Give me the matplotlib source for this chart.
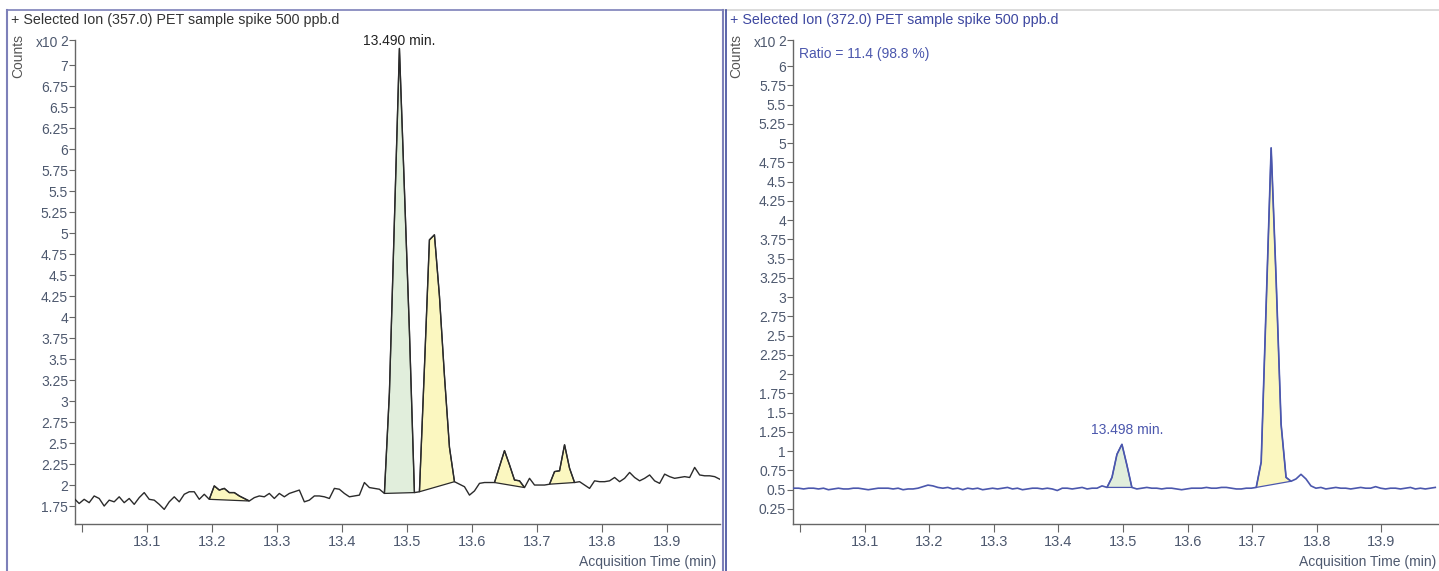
import matplotlib.pyplot as plt
import numpy as np
from matplotlib.lines import Line2D

plt.rcParams['font.family'] = ['Liberation Sans', 'DejaVu Sans']

# ---- data ----
scan_step = 0.0077          # min between scans
left_start = 12.9877        # time of first scan, ion 357
right_start = 12.9900       # time of first scan, ion 372

counts_357 = [1.84, 1.78, 1.83, 1.79, 1.87, 1.84, 1.75, 1.82, 1.80, 1.86,
              1.79, 1.84, 1.77, 1.85, 1.91, 1.83, 1.82, 1.77, 1.71, 1.80,
              1.86, 1.80, 1.89, 1.92, 1.92, 1.83, 1.89, 1.83, 1.99, 1.94,
              1.96, 1.91, 1.91, 1.87, 1.84, 1.81, 1.85, 1.87, 1.86, 1.90,
              1.84, 1.90, 1.86, 1.90, 1.92, 1.94, 1.80, 1.82, 1.87, 1.87,
              1.86, 1.84, 1.96, 1.95, 1.90, 1.86, 1.87, 1.88, 2.03, 1.97,
              1.96, 1.95, 1.90, 3.10, 5.15, 7.20, 5.52, 3.83, 1.91, 1.92,
              3.40, 4.92, 4.98, 4.25, 3.30, 2.45, 2.04, 2.01, 1.98, 1.88,
              1.93, 2.02, 2.03, 2.03, 2.03, 2.22, 2.41, 2.24, 2.06, 2.05,
              1.97, 2.08, 2.00, 2.00, 2.00, 2.01, 2.16, 2.17, 2.48, 2.20,
              2.03, 2.04, 2.00, 1.96, 2.05, 2.04, 2.04, 2.05, 2.09, 2.04,
              2.08, 2.15, 2.09, 2.05, 2.08, 2.12, 2.05, 2.02, 2.13, 2.10,
              2.08, 2.09, 2.10, 2.09, 2.21, 2.12, 2.11, 2.11, 2.10, 2.07]

counts_372 = [0.52, 0.52, 0.51, 0.52, 0.52, 0.51, 0.52, 0.50, 0.51, 0.52,
              0.51, 0.51, 0.52, 0.52, 0.51, 0.50, 0.51, 0.52, 0.52, 0.52,
              0.51, 0.52, 0.50, 0.51, 0.51, 0.52, 0.54, 0.56, 0.55, 0.53,
              0.52, 0.53, 0.51, 0.52, 0.50, 0.52, 0.51, 0.52, 0.50, 0.51,
              0.52, 0.51, 0.52, 0.53, 0.51, 0.52, 0.50, 0.51, 0.52, 0.52,
              0.51, 0.52, 0.51, 0.49, 0.52, 0.52, 0.51, 0.52, 0.53, 0.51,
              0.52, 0.52, 0.55, 0.53, 0.66, 0.96, 1.09, 0.82, 0.53, 0.51,
              0.52, 0.53, 0.52, 0.52, 0.51, 0.52, 0.52, 0.51, 0.50, 0.51,
              0.52, 0.52, 0.52, 0.53, 0.52, 0.52, 0.53, 0.53, 0.52, 0.51,
              0.51, 0.52, 0.52, 0.53, 0.86, 2.90, 4.94, 3.23, 1.35, 0.66,
              0.61, 0.64, 0.70, 0.64, 0.55, 0.52, 0.53, 0.51, 0.52, 0.53,
              0.52, 0.52, 0.51, 0.52, 0.53, 0.52, 0.52, 0.54, 0.52, 0.51,
              0.52, 0.52, 0.51, 0.52, 0.53, 0.51, 0.52, 0.51, 0.52, 0.53]

# integrated peaks: first scan, last scan, kind (g = target, y = other)
peaks_357_start = [27, 62, 69, 84, 95]
peaks_357_end = [35, 68, 76, 90, 100]
peaks_357_kind = ['y', 'g', 'y', 'y', 'y']

peaks_372_start = [63, 93]
peaks_372_end = [68, 100]
peaks_372_kind = ['g', 'y']

x_ticks = [13.0, 13.1, 13.2, 13.3, 13.4, 13.5, 13.6, 13.7, 13.8, 13.9]
x_labels = ['', '13.1', '13.2', '13.3', '13.4', '13.5', '13.6', '13.7', '13.8', '13.9']
y_ticks_357 = [1.75, 2, 2.25, 2.5, 2.75, 3, 3.25, 3.5, 3.75, 4, 4.25, 4.5,
               4.75, 5, 5.25, 5.5, 5.75, 6, 6.25, 6.5, 6.75, 7]
y_ticks_372 = [0.25, 0.5, 0.75, 1, 1.25, 1.5, 1.75, 2, 2.25, 2.5, 2.75, 3,
               3.25, 3.5, 3.75, 4, 4.25, 4.5, 4.75, 5, 5.25, 5.5, 5.75, 6]

fill_colors = {'g': '#e1eedc', 'y': '#fbf7c0'}
tick_color = '#4d586e'
W, H = 1439, 571


def fx(px):
    return px / W


def fy(py):
    return 1 - py / H


def draw_panel(ax, t, y, starts, ends, kinds, line_color, lw, ylim, yticks):
    for s, e, k in zip(starts, ends, kinds):
        xs = list(t[s:e + 1]) + [t[e], t[s]]
        ys = list(y[s:e + 1]) + [y[e], y[s]]
        ax.fill(xs, ys, facecolor=fill_colors[k], edgecolor=line_color, lw=0.9, zorder=2)
    ax.plot(t, y, color=line_color, lw=lw, zorder=3)

    ax.set_ylim(*ylim)
    ax.set_yticks(list(yticks) + [ylim[1]])
    ax.set_yticklabels(['%g' % v for v in yticks] + ['2'])
    ax.set_xticks(x_ticks)
    ax.set_xticklabels(x_labels)
    for s in ['top', 'right']:
        ax.spines[s].set_visible(False)
    for s in ['left', 'bottom']:
        ax.spines[s].set_color('#666666')
        ax.spines[s].set_linewidth(1.0)
    ax.tick_params(axis='y', length=4, width=0.8, color='#666666', pad=1,
                   labelsize=10, labelcolor=tick_color)
    ax.tick_params(axis='x', length=6, width=0.8, color='#666666', pad=2,
                   labelsize=10.5, labelcolor=tick_color)


fig = plt.figure(figsize=(W / 100, H / 100), dpi=100)

t357 = left_start + scan_step * np.arange(len(counts_357))
t372 = right_start + scan_step * np.arange(len(counts_372))
y357 = np.array(counts_357)
y372 = np.array(counts_372)

black = '#2b2b2b'
blue = '#4b57ad'

ax_l = fig.add_axes([fx(75), fy(524), fx(645), 484 / H])
draw_panel(ax_l, t357, y357, peaks_357_start, peaks_357_end, peaks_357_kind,
           black, 1.0, (1.536, 7.30), y_ticks_357)
ax_l.set_xlim(12.989, 13.9815)
apex = int(np.argmax(y357))
ax_l.annotate('13.490 min.', (t357[apex], y357[apex]), xytext=(0, 0),
              textcoords='offset points', ha='center', va='bottom',
              fontsize=10, color='#222222')

ax_r = fig.add_axes([fx(793), fy(524), fx(645), 484 / H])
draw_panel(ax_r, t372, y372, peaks_372_start, peaks_372_end, peaks_372_kind,
           blue, 1.2, (0.055, 6.34), y_ticks_372)
ax_r.set_xlim(12.989, 13.9875)
g = 66
ax_r.annotate('13.498 min.', (t372[g], y372[g]), xytext=(4, 5),
              textcoords='offset points', ha='center', va='bottom',
              fontsize=10, color=blue)
ax_r.text(6 / 645, 0.985, 'Ratio = 11.4 (98.8 %)', transform=ax_r.transAxes,
          ha='left', va='top', fontsize=10, color=blue)

# panel headers and axis captions
fig.text(fx(11), fy(20), '+ Selected Ion (357.0) PET sample spike 500 ppb.d',
         ha='left', va='center', fontsize=10.3, color='#333333')
fig.text(fx(730), fy(20), '+ Selected Ion (372.0) PET sample spike 500 ppb.d',
         ha='left', va='center', fontsize=10.3, color='#3d47a0')
for x0 in [18, 736]:
    fig.text(fx(x0), fy(56), 'Counts', rotation=90, ha='center', va='center',
             fontsize=10, color='#555555')
fig.text(fx(58), fy(43), 'x10', ha='right', va='center', fontsize=10, color=tick_color)
fig.text(fx(776), fy(43), 'x10', ha='right', va='center', fontsize=10, color=tick_color)
fig.text(fx(716), fy(562), 'Acquisition Time (min)', ha='right', va='center',
         fontsize=10, color=tick_color)
fig.text(fx(1436), fy(562), 'Acquisition Time (min)', ha='right', va='center',
         fontsize=10, color=tick_color)

# window frames
frame = '#7d80b9'
fig.add_artist(Line2D([fx(7.5), fx(7.5)], [fy(10), 0], color=frame, lw=1.5, transform=fig.transFigure))
fig.add_artist(Line2D([fx(7.5), fx(723)], [fy(10), fy(10)], color=frame, lw=1.2, transform=fig.transFigure))
fig.add_artist(Line2D([fx(723), fx(723)], [fy(10), 0], color=frame, lw=1.5, transform=fig.transFigure))
fig.add_artist(Line2D([fx(725), fx(1439)], [fy(10), fy(10)], color='#d4d4d4', lw=1.2, transform=fig.transFigure))
fig.add_artist(Line2D([fx(725.5), fx(725.5)], [fy(10), 0], color='#404a9c', lw=1.2, transform=fig.transFigure))

fig.savefig('out.png', dpi=100)
